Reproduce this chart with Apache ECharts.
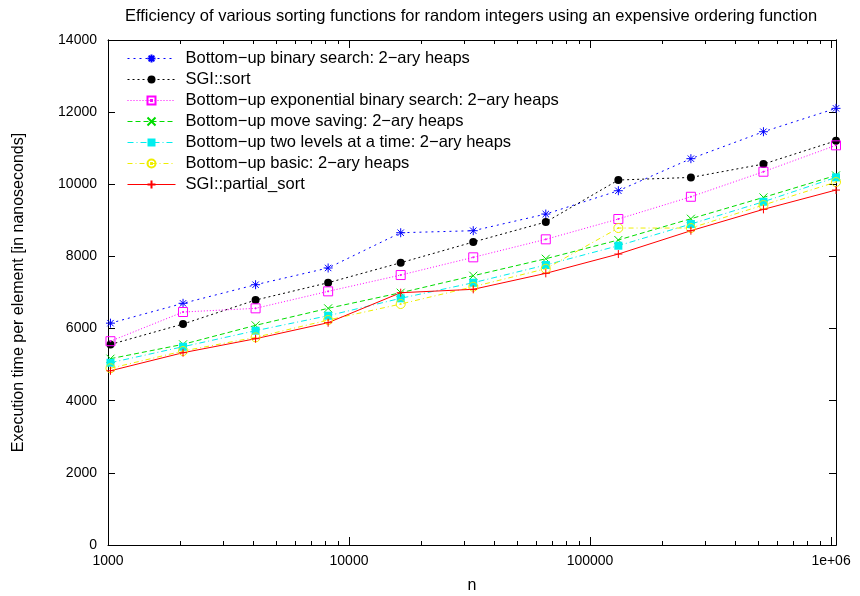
<!DOCTYPE html>
<html>
<head>
<meta charset="utf-8">
<script src="https://cdn.jsdelivr.net/npm/echarts@6/dist/echarts.min.js"></script>
<style>
html,body{margin:0;padding:0;background:#fff;}
#chart{width:860px;height:596px;}
</style>
</head>
<body>
<div id="chart"></div>
<script>
// ---- data ----
var nValues = [1024, 2048, 4096, 8192, 16384, 32768, 65536, 131072, 262144, 524288, 1048576];
var seriesNames = [
  'Bottom\u2212up binary search: 2\u2212ary heaps',
  'SGI::sort',
  'Bottom\u2212up exponential binary search: 2\u2212ary heaps',
  'Bottom\u2212up move saving: 2\u2212ary heaps',
  'Bottom\u2212up two levels at a time: 2\u2212ary heaps',
  'Bottom\u2212up basic: 2\u2212ary heaps',
  'SGI::partial_sort'
];
var binarySearch   = [6150, 6700, 7216, 7680, 8657, 8713, 9175, 9821, 10710, 11457, 12105];
var sgiSort        = [5560, 6126, 6791, 7271, 7825, 8399, 8953, 10118, 10190, 10561, 11207];
var expBinary      = [5650, 6459, 6561, 7032, 7484, 7975, 8474, 9037, 9654, 10348, 11080];
var moveSaving     = [5165, 5563, 6090, 6561, 6994, 7465, 7936, 8455, 9045, 9636, 10246];
var twoLevels      = [5053, 5497, 5941, 6356, 6839, 7271, 7762, 8297, 8898, 9516, 10192];
var basic          = [4900, 5378, 5757, 6237, 6680, 7160, 7659, 8787, 8787, 9425, 10062];
var partialSort    = [4830, 5331, 5719, 6163, 6994, 7088, 7531, 8066, 8713, 9305, 9840];

var xMajorTicks = [1000, 10000, 100000, 1000000];
var xMajorLabels = ['1000', '10000', '100000', '1e+06'];
var xMinorTicks = [2000,3000,4000,5000,6000,7000,8000,9000,
                   20000,30000,40000,50000,60000,70000,80000,90000,
                   200000,300000,400000,500000,600000,700000,800000,900000];
var xMin = 1000, xMax = 1048576;
var yMin = 0, yMax = 14000, yStep = 2000;

// ---- chart ----
var FONT = 'Liberation Sans, Helvetica, Arial, sans-serif';
var allSeries = [binarySearch, sgiSort, expBinary, moveSaving, twoLevels, basic, partialSort];
var colors = ['#0000ff', '#000000', '#ff00ff', '#00dd00', '#00eeee', '#eeee00', '#ff0000'];
var dashes = [[2,4], [2,3], [1,2], [5,3], [6,3,1,3], [5,3,1,3], 'solid'];
var symbols = [
  'path://M4.5,0L4.5,9M0,4.5L9,4.5M1.3,1.3L7.7,7.7M1.3,7.7L7.7,1.3',
  'circle',
  'path://M0,0L9,0L9,9L0,9Z M4,4L5,4L5,5L4,5Z',
  'path://M0,0L8,8M0,8L8,0',
  'rect',
  'path://M0,4.5A4.5,4.5,0,1,1,9,4.5A4.5,4.5,0,1,1,0,4.5Z M4,4L5,4L5,5L4,5Z',
  'path://M4,0L4,8M0,4L8,4'
];
var sizes = [9, 8, 9, 8, 8, 9, 8];
var filled = [false, true, false, false, true, false, false];

var series = allSeries.map(function (vals, i) {
  return {
    name: seriesNames[i],
    type: 'line',
    xAxisIndex: 0,
    yAxisIndex: 0,
    data: nValues.map(function (n, k) { return [n, vals[k]]; }),
    symbol: symbols[i],
    symbolSize: sizes[i],
    showSymbol: true,
    animation: false,
    lineStyle: { color: colors[i], width: 1, type: dashes[i] },
    itemStyle: {
      color: filled[i] ? colors[i] : 'rgba(255,255,255,0)',
      borderColor: colors[i],
      borderWidth: filled[i] ? 0 : 1
    },
    emphasis: { disabled: true }
  };
});

function xAxisDef(gridIndex, position, ticks, len, showLabels, showLine, name) {
  return {
    type: 'log', logBase: 10, gridIndex: gridIndex, position: position,
    min: xMin, max: xMax,
    name: name || '', nameLocation: 'middle', nameGap: 33,
    nameTextStyle: { fontFamily: FONT, fontSize: 16, color: '#000' },
    axisLine: { show: showLine, onZero: false, lineStyle: { color: '#000', width: 1 } },
    axisTick: { show: true, inside: true, length: len, customValues: ticks, lineStyle: { color: '#000', width: 1 } },
    axisLabel: showLabels ? {
      show: true, customValues: xMajorTicks, margin: 9,
      fontFamily: FONT, fontSize: 14, color: '#000',
      formatter: function (v) {
        var idx = xMajorTicks.indexOf(Math.round(v));
        return idx >= 0 ? xMajorLabels[idx] : '';
      }
    } : { show: false },
    splitLine: { show: false },
    minorTick: { show: false }
  };
}
function yAxisDef(gridIndex, position, showLabels, name) {
  return {
    type: 'value', gridIndex: gridIndex, position: position,
    min: yMin, max: yMax, interval: yStep,
    name: name || '', nameLocation: 'middle', nameGap: 81,
    nameTextStyle: { fontFamily: FONT, fontSize: 16, color: '#000' },
    axisLine: { show: true, lineStyle: { color: '#000', width: 1 } },
    axisTick: { show: true, inside: true, length: 7, lineStyle: { color: '#000', width: 1 } },
    axisLabel: showLabels ? {
      show: true, margin: 11, fontFamily: FONT, fontSize: 14, color: '#000',
      formatter: function (v) { return String(v); }
    } : { show: false },
    splitLine: { show: false }
  };
}

var gridRect = { left: 108, right: 24, top: 40, bottom: 51, containLabel: false, outerBoundsMode: 'none' };

var option = {
  backgroundColor: '#fff',
  animation: false,
  title: {
    text: 'Efficiency of various sorting functions for random integers using an expensive ordering function',
    left: 471, textAlign: 'center', top: 8, padding: 0,
    textStyle: { fontFamily: FONT, fontSize: 16.5, fontWeight: 'normal', color: '#000' }
  },
  legend: {
    orient: 'vertical', left: 127, top: 50, padding: 0,
    itemWidth: 48, itemHeight: 10, itemGap: 4,
    lineStyle: { width: 1 },
    textStyle: { fontFamily: FONT, fontSize: 16.5, lineHeight: 10, color: '#000', padding: [0, 0, 0, 5] },
    data: seriesNames,
    selectedMode: false
  },
  grid: [Object.assign({}, gridRect), Object.assign({}, gridRect)],
  xAxis: [
    xAxisDef(0, 'bottom', xMajorTicks, 8, true, true, 'n'),
    xAxisDef(0, 'top', xMajorTicks, 8, false, true),
    xAxisDef(1, 'bottom', xMinorTicks, 4, false, false),
    xAxisDef(1, 'top', xMinorTicks, 4, false, false)
  ],
  yAxis: [
    yAxisDef(0, 'left', true, 'Execution time per element [in nanoseconds]'),
    yAxisDef(0, 'right', false),
    yAxisDef(1, 'left', false),
    yAxisDef(1, 'right', false)
  ],
  series: series
};

var chart = echarts.init(document.getElementById('chart'), null, { renderer: 'canvas' });
chart.setOption(option);
</script>
</body>
</html>
